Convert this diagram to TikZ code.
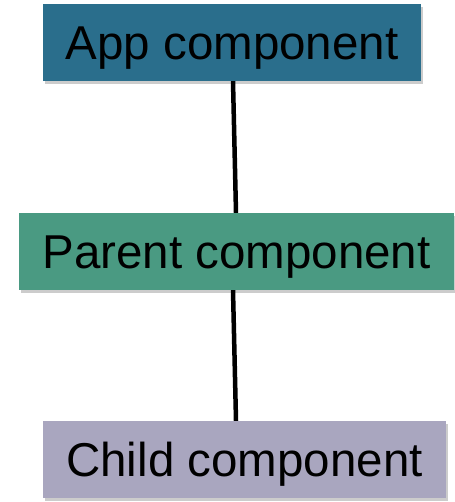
\documentclass[tikz,border=0pt]{standalone}
\usepackage{fontspec}
\setmainfont{Liberation Sans}
\usepackage{xcolor}
\usepackage{tikz}
\usetikzlibrary{positioning, shadows}
\definecolor{AppBlue}{RGB}{42,110,140}
\definecolor{ParentGreen}{RGB}{74,154,130}
\definecolor{ChildLilac}{RGB}{169,166,191}

\begin{document}
\begin{tikzpicture}[x=1pt, y=1pt,
	comp/.style={rectangle, inner sep=0pt, minimum height=77pt,
		text height=34pt, text depth=0pt,
		font=\fontsize{47.5}{50}\selectfont,
		drop shadow={opacity=0.4, shadow xshift=1.5pt, shadow yshift=-3pt}},
	link/.style={line width=4.5pt, black}]
	\useasboundingbox (0,0) rectangle (454,502);
	\node[comp, fill=AppBlue, minimum width=378pt] (app) at (232,459.5) {App component};
	\node[comp, fill=ParentGreen, minimum width=435pt] (parent) at (236.5,250.5) {Parent component};
	\node[comp, fill=ChildLilac, minimum width=403pt] (child) at (244.5,42.5) {Child component};
	\draw[link] ([xshift=1pt]app.south) -- ([xshift=-0.5pt]parent.north);
	\draw[link] ([xshift=-3.5pt]parent.south) -- ([xshift=-8.5pt]child.north);
\end{tikzpicture}
\end{document}
